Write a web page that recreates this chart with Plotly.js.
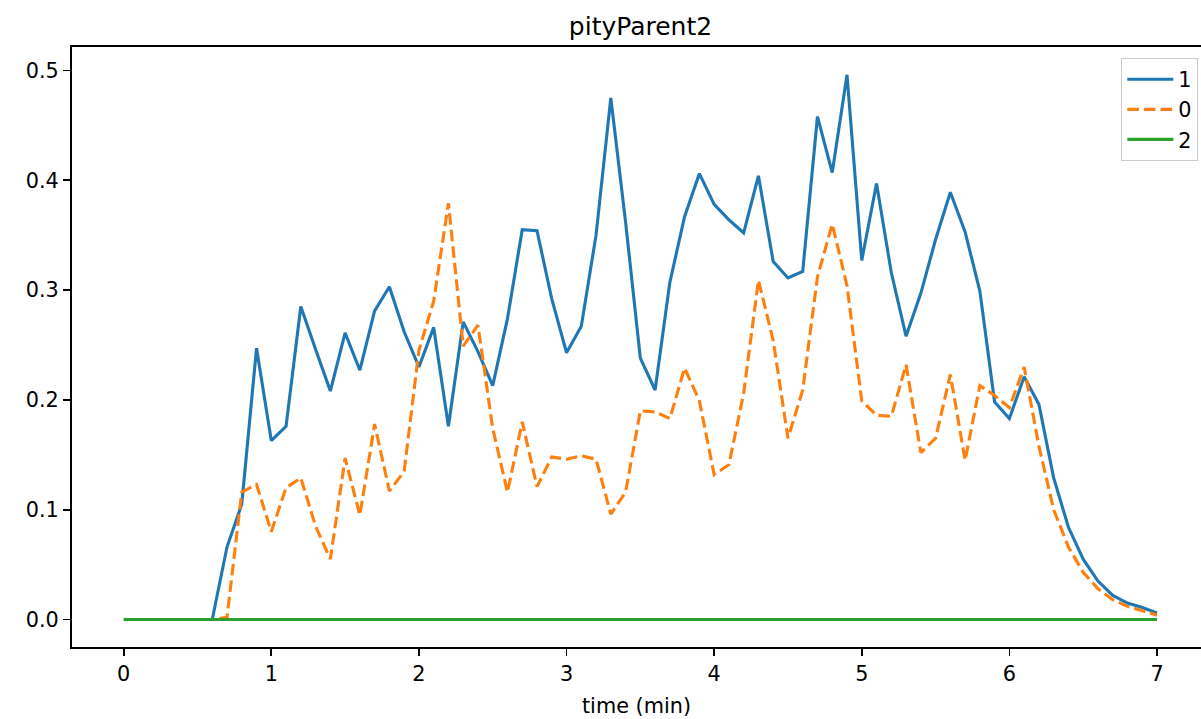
<!DOCTYPE html>
<html>
<head>
<meta charset="utf-8">
<script src="https://cdn.plot.ly/plotly-3.0.1.min.js"></script>
<style>
html, body { margin: 0; padding: 0; background: #ffffff; overflow: hidden; }
#chart { width: 1201px; height: 719px; }
</style>
</head>
<body>
<div id="chart"></div>
<script>
// ---- data ----
const chartTitle = "pityParent2";
const xLabel = "time (min)";

const timeGreen = [0.0,0.1,0.2,0.3,0.4,0.5,0.6,0.7,0.8,0.9,1.0,1.1,1.2,1.3,1.4,1.5,1.6,1.7,1.8,1.9,2.0,2.1,2.2,2.3,2.4,2.5,2.6,2.7,2.8,2.9,3.0,3.1,3.2,3.3,3.4,3.5,3.6,3.7,3.8,3.9,4.0,4.1,4.2,4.3,4.4,4.5,4.6,4.7,4.8,4.9,5.0,5.1,5.2,5.3,5.4,5.5,5.6,5.7,5.8,5.9,6.0,6.1,6.2,6.3,6.4,6.5,6.6,6.7,6.8,6.9,7.0];

const timeMain = [0.2,0.3,0.4,0.5,0.6,0.7,0.8,0.9,1.0,1.1,1.2,1.3,1.4,1.5,1.6,1.7,1.8,1.9,2.0,2.1,2.2,2.3,2.4,2.5,2.6,2.7,2.8,2.9,3.0,3.1,3.2,3.3,3.4,3.5,3.6,3.7,3.8,3.9,4.0,4.1,4.2,4.3,4.4,4.5,4.6,4.7,4.8,4.9,5.0,5.1,5.2,5.3,5.4,5.5,5.6,5.7,5.8,5.9,6.0,6.1,6.2,6.3,6.4,6.5,6.6,6.7,6.8,6.9,7.0];

const series1 = [0,0,0,0,0,0.066,0.105,0.247,0.163,0.176,0.285,0.246,0.208,0.261,0.227,0.281,0.303,0.262,0.230,0.266,0.176,0.271,0.244,0.213,0.274,0.355,0.354,0.292,0.243,0.267,0.350,0.475,0.362,0.238,0.209,0.307,0.367,0.406,0.378,0.364,0.352,0.404,0.326,0.311,0.317,0.458,0.407,0.496,0.327,0.397,0.316,0.258,0.297,0.346,0.389,0.353,0.299,0.198,0.183,0.221,0.196,0.129,0.084,0.055,0.035,0.022,0.015,0.011,0.006];

const series0 = [0,0,0,0,0,0.002,0.116,0.123,0.080,0.120,0.129,0.085,0.055,0.147,0.095,0.178,0.117,0.135,0.245,0.290,0.379,0.249,0.268,0.174,0.116,0.180,0.121,0.148,0.146,0.149,0.146,0.096,0.116,0.190,0.189,0.183,0.229,0.199,0.132,0.141,0.206,0.309,0.254,0.165,0.209,0.312,0.360,0.304,0.199,0.186,0.185,0.232,0.152,0.165,0.223,0.145,0.213,0.204,0.193,0.230,0.158,0.100,0.066,0.043,0.028,0.018,0.012,0.008,0.004];

const series2 = [0,0,0,0,0,0,0,0,0,0,0,0,0,0,0,0,0,0,0,0,0,0,0,0,0,0,0,0,0,0,0,0,0,0,0,0,0,0,0,0,0,0,0,0,0,0,0,0,0,0,0,0,0,0,0,0,0,0,0,0,0,0,0,0,0,0,0,0,0,0,0];

const xTicks = [0,1,2,3,4,5,6,7];
const yTicks = [0,0.1,0.2,0.3,0.4,0.5];
const yTickText = ["0.0","0.1","0.2","0.3","0.4","0.5"];

// ---- chart ----
const FONT = "DejaVu Sans, Verdana, sans-serif";
const LW = 3.1;

const traces = [
  {x: timeMain, y: series1, name: "1", type: "scatter", mode: "lines",
   line: {color: "#1f77b4", width: LW}, legendgroup: "g1"},
  {x: timeMain, y: series0, name: "0", type: "scatter", mode: "lines",
   line: {color: "#ff7f0e", width: LW, dash: "11.6px,5px"}, legendgroup: "g0"},
  {x: timeGreen, y: series2, name: "2", type: "scatter", mode: "lines",
   line: {color: "#2ca02c", width: LW}, legendgroup: "g2"}
];

const axisCommon = {
  showgrid: false, zeroline: false, showline: true, linecolor: "#000000", linewidth: 1.67,
  ticks: "outside", ticklen: 7.3, tickwidth: 1.67, tickcolor: "#000000",
  tickfont: {family: FONT, size: 20.8, color: "#000000"}, automargin: false
};

const layout = {
  width: 1201, height: 719,
  margin: {l: 72, r: 0, t: 47, b: 72, pad: 0},
  paper_bgcolor: "#ffffff", plot_bgcolor: "#ffffff",
  font: {family: FONT, size: 20.8, color: "#000000"},
  title: {text: chartTitle, font: {family: FONT, size: 25, color: "#000000"},
          xref: "container", x: 640.5/1201, xanchor: "center",
          yref: "container", y: 1 - 26/719, yanchor: "middle"},
  xaxis: Object.assign({}, axisCommon, {
    range: [-0.35, 7.298], tickmode: "array", tickvals: xTicks, mirror: true,
    title: {text: xLabel, font: {family: FONT, size: 20.8, color: "#000000"}, standoff: 13}
  }),
  yaxis: Object.assign({}, axisCommon, {
    range: [-0.025, 0.5213], tickmode: "array", tickvals: yTicks, ticktext: yTickText, mirror: false
  }),
  showlegend: true,
  legend: {
    x: (1198 - 72) / 1129, xanchor: "right", y: 1 - (58 - 47) / 600, yanchor: "top",
    bgcolor: "rgba(255,255,255,0.8)", bordercolor: "#cccccc", borderwidth: 1.3,
    font: {family: FONT, size: 20.8, color: "#000000"},
    itemwidth: 46, entrywidth: 30, entrywidthmode: "pixels",
    tracegroupgap: 5.5, traceorder: "normal"
  },
  hovermode: false
};

Plotly.newPlot("chart", traces, layout, {displayModeBar: false, staticPlot: true});
</script>
</body>
</html>
